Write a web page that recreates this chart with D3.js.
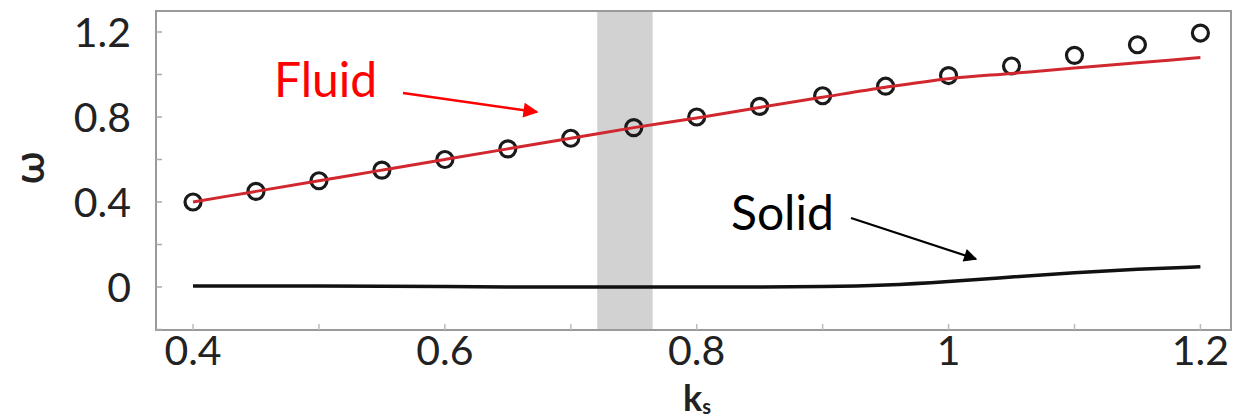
<!DOCTYPE html>
<html>
<head>
<meta charset="utf-8">
<script src="https://cdn.jsdelivr.net/npm/d3@7"></script>
<style>
  html, body { margin: 0; padding: 0; background: #fff; }
  svg { display: block; }
  text { font-family: Lato, "Open Sans", sans-serif; }
</style>
</head>
<body>
<svg id="chart" width="1233" height="420"></svg>
<script>
// Wavenumber samples
const kValues = [0.40, 0.45, 0.50, 0.55, 0.60, 0.65, 0.70, 0.75, 0.80, 0.85, 0.90, 0.95, 1.00, 1.05, 1.10, 1.15, 1.20];
// Fluid branch: markers and curve
const fluidMarkers = [0.40, 0.45, 0.50, 0.55, 0.60, 0.65, 0.70, 0.75, 0.80, 0.85, 0.90, 0.945, 0.995, 1.04, 1.09, 1.14, 1.195];
const fluidCurve   = [0.40, 0.45, 0.50, 0.55, 0.60, 0.65, 0.70, 0.75, 0.795, 0.845, 0.893, 0.940, 0.980, 1.005, 1.030, 1.055, 1.080];
// Solid branch
const solidCurve   = [0.005, 0.005, 0.005, 0.004, 0.002, 0.0, 0.0, 0.0, 0.0, 0.0, 0.001, 0.007, 0.025, 0.047, 0.068, 0.084, 0.095];
// Shaded band in k
const bandRange = [0.721, 0.765];
// Axis ticks
const xTicks = [0.4, 0.6, 0.8, 1.0, 1.2];
const xTickLabels = ["0.4", "0.6", "0.8", "1", "1.2"];
const xMinorTicks = [0.4, 0.5, 0.6, 0.7, 0.8, 0.9, 1.0, 1.1, 1.2];
const yTicks = [0, 0.4, 0.8, 1.2];
const yTickLabels = ["0", "0.4", "0.8", "1.2"];
const yMinorTicks = [-0.2, 0, 0.2, 0.4, 0.6, 0.8, 1.0, 1.2];

const svg = d3.select("#chart");
const plotL = 156, plotR = 1231, plotT = 11, plotB = 330;

const x = d3.scaleLinear().domain([0.3706, 1.2243]).range([plotL, plotR]);
const y = d3.scaleLinear().domain([-0.2024, 1.2988]).range([plotB, plotT]);

// shaded band
svg.append("rect")
  .attr("x", x(bandRange[0])).attr("y", plotT)
  .attr("width", x(bandRange[1]) - x(bandRange[0]))
  .attr("height", plotB - plotT)
  .attr("fill", "#d2d2d2");

// frame
svg.append("rect")
  .attr("x", plotL).attr("y", plotT)
  .attr("width", plotR - plotL).attr("height", plotB - plotT)
  .attr("fill", "none").attr("stroke", "#9a9a9a").attr("stroke-width", 2);

// inward ticks
svg.append("g").selectAll("line").data(yMinorTicks).join("line")
  .attr("x1", plotL).attr("x2", plotL + 6)
  .attr("y1", d => y(d)).attr("y2", d => y(d))
  .attr("stroke", "#aaa").attr("stroke-width", 1.5);
svg.append("g").selectAll("line").data(xMinorTicks).join("line")
  .attr("x1", d => x(d)).attr("x2", d => x(d))
  .attr("y1", plotB).attr("y2", plotB - 6)
  .attr("stroke", "#bbb").attr("stroke-width", 1.5);

// tick labels
svg.append("g").selectAll("text").data(yTicks).join("text")
  .attr("x", 131).attr("y", d => y(d) + 15)
  .attr("text-anchor", "end")
  .attr("font-size", 41).attr("fill", "#222")
  .text((d, i) => yTickLabels[i]);
svg.append("g").selectAll("text").data(xTicks).join("text")
  .attr("x", d => x(d)).attr("y", 365)
  .attr("text-anchor", "middle")
  .attr("font-size", 41).attr("fill", "#222")
  .text((d, i) => xTickLabels[i]);

// axis titles
const kt = svg.append("text")
  .attr("x", 697).attr("y", 411)
  .attr("text-anchor", "middle")
  .attr("font-size", 36).attr("font-weight", "bold").attr("fill", "#222");
kt.append("tspan").text("k");
kt.append("tspan").attr("font-size", 20).attr("dy", 3).text("s");

svg.append("text")
  .attr("transform", "translate(44,168) rotate(-90)")
  .attr("text-anchor", "middle")
  .attr("font-size", 42).attr("font-weight", 600).attr("fill", "#222")
  .text("ω");

// solid branch
const line = d3.line().x((d, i) => x(kValues[i])).y(d => y(d)).curve(d3.curveMonotoneX);
const smoothLine = d3.line().x((d, i) => x(kValues[i])).y(d => y(d)).curve(d3.curveBasis);
svg.append("path")
  .datum(solidCurve)
  .attr("d", smoothLine)
  .attr("fill", "none").attr("stroke", "#111").attr("stroke-width", 3.5);

// fluid markers
svg.append("g").selectAll("circle").data(fluidMarkers).join("circle")
  .attr("cx", (d, i) => x(kValues[i])).attr("cy", d => y(d))
  .attr("r", 8)
  .attr("fill", "none").attr("stroke", "#1a1a1a").attr("stroke-width", 3.2);

// fluid curve
svg.append("path")
  .datum(fluidCurve)
  .attr("d", line)
  .attr("fill", "none").attr("stroke", "#d0282e").attr("stroke-width", 3);

// annotations
const defs = svg.append("defs");
function marker(id, color) {
  defs.append("marker")
    .attr("id", id).attr("viewBox", "0 0 10 10")
    .attr("refX", 9).attr("refY", 5)
    .attr("markerWidth", 7).attr("markerHeight", 6)
    .attr("markerUnits", "strokeWidth")
    .attr("orient", "auto")
    .append("path").attr("d", "M0,0 L10,5 L0,10 z").attr("fill", color);
}
marker("arrowRed", "#ff0000");
marker("arrowBlack", "#000");

svg.append("text")
  .attr("x", 274).attr("y", 97)
  .attr("font-size", 48).attr("fill", "#ff0000")
  .text("Fluid");
svg.append("line")
  .attr("x1", 403).attr("y1", 93).attr("x2", 537).attr("y2", 112)
  .attr("stroke", "#ff0000").attr("stroke-width", 2.5)
  .attr("marker-end", "url(#arrowRed)");

svg.append("text")
  .attr("x", 731).attr("y", 230)
  .attr("font-size", 48).attr("fill", "#000")
  .text("Solid");
svg.append("line")
  .attr("x1", 851).attr("y1", 218).attr("x2", 976).attr("y2", 259)
  .attr("stroke", "#000").attr("stroke-width", 2.2)
  .attr("marker-end", "url(#arrowBlack)");
</script>
</body>
</html>
